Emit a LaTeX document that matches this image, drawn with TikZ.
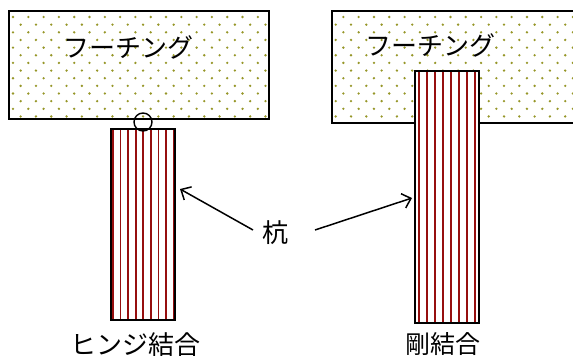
\documentclass[tikz,border=0pt]{standalone}
\usepackage{fontspec}
\newfontfamily\jp{Noto Sans CJK JP}
\usetikzlibrary{arrows.meta}
\definecolor{dotc}{RGB}{150,150,40}
\definecolor{stripec}{RGB}{150,15,15}
\begin{document}
\begin{tikzpicture}[x=1pt,y=-1pt,
  frame/.style={draw=black,line width=1.5pt},
  stripe/.style={draw=stripec,line width=1.8pt},
  dotstyle/.style={fill=dotc},
  lbl/.style={font=\jp\fontsize{26}{28}\selectfont,inner sep=0pt,anchor=base},
  arr/.style={line width=1.5pt,-{Straight Barb[length=8pt,width=15pt,line width=1.5pt]}}]
\useasboundingbox (0,0) rectangle (573,356);
% left footing
\coordinate (lfA) at (9,11);
\coordinate (lfB) at (269,119);
\begin{scope}
\clip (lfA) rectangle (lfB);
\foreach \j in {0,...,13}{
  \pgfmathsetmacro{\off}{mod(\j,2)*7.65}
  \foreach \i in {0,...,17}{
    \fill[dotstyle] (13+\off+15.3*\i,17+7.65*\j) circle (1.3);
  }
}
\end{scope}
\draw[frame] (lfA) rectangle (lfB);
% right footing
\coordinate (rfA) at (332,11);
\coordinate (rfB) at (580,123);
\begin{scope}
\clip (rfA) rectangle (rfB);
\foreach \j in {0,...,13}{
  \pgfmathsetmacro{\off}{mod(\j+1,2)*7.65}
  \foreach \i in {0,...,17}{
    \fill[dotstyle] (335.7+\off+15.3*\i,17+7.65*\j) circle (1.3);
  }
}
\end{scope}
\draw[frame] (rfA) rectangle (rfB);
% left pile
\coordinate (lpA) at (111,129);
\coordinate (lpB) at (175,320);
\fill[white] (lpA) rectangle (lpB);
\foreach \k in {0,...,8}{
  \draw[stripe] (112.8+7.6*\k,129) -- (112.8+7.6*\k,320);
}
\draw[frame] (lpA) rectangle (lpB);
% right pile
\coordinate (rpA) at (415,71);
\coordinate (rpB) at (479,323);
\fill[white] (rpA) rectangle (rpB);
\foreach \k in {0,...,7}{
  \draw[stripe] (418.7+8*\k,71) -- (418.7+8*\k,323);
}
\draw[frame] (rpA) rectangle (rpB);
% hinge
\node[draw,circle,line width=1.4pt,minimum size=18pt,inner sep=0pt] (hinge) at (143,122) {};
% labels
\node[lbl] (lfoot) at (128,57) {フーチング};
\node[lbl] (rfoot) at (430,55) {フーチング};
\node[lbl] (kui) at (275,242) {杭};
\node[lbl] (hinge lbl) at (135,354) {ヒンジ結合};
\node[lbl,font=\jp\fontsize{25}{27}\selectfont] (rigid lbl) at (443,353) {剛結合};
% arrows
\coordinate (a1s) at (253,230);
\coordinate (a1e) at (180,189);
\coordinate (a2s) at (315,230);
\coordinate (a2e) at (412,198);
\draw[arr] (a1s) -- (a1e);
\draw[arr] (a2s) -- (a2e);
\end{tikzpicture}
\end{document}
